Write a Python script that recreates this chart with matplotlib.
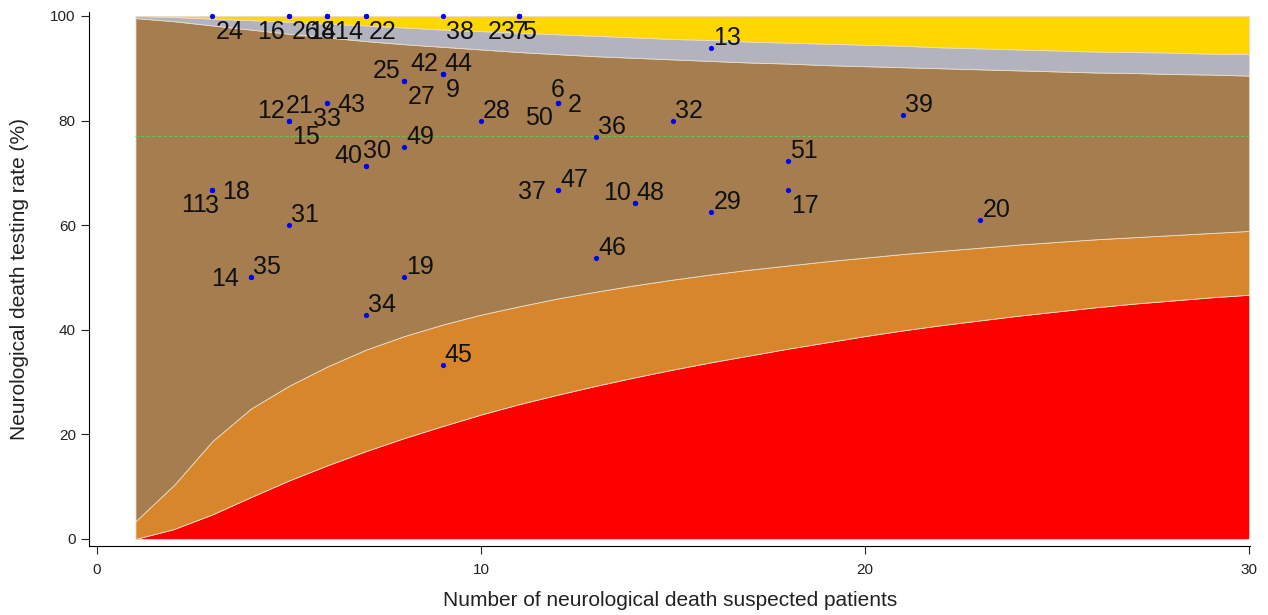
import matplotlib
matplotlib.use("Agg")
from matplotlib import pyplot as plt

# control limits, one value per number of patients (1..30)
n_grid = list(range(1, 31))
lower_998 = [0.0, 1.9, 4.7, 8.0, 11.2, 14.1, 16.8, 19.3, 21.6, 23.8,
             25.8, 27.6, 29.3, 30.9, 32.4, 33.8, 35.1, 36.4, 37.6, 38.8,
             39.9, 40.9, 41.8, 42.7, 43.5, 44.3, 45.0, 45.6, 46.2, 46.7]
lower_95 = [3.4, 10.3, 18.7, 24.9, 29.3, 33.0, 36.2, 38.8, 41.0, 42.9,
            44.5, 46.0, 47.3, 48.5, 49.6, 50.6, 51.5, 52.3, 53.1, 53.8,
            54.5, 55.1, 55.7, 56.3, 56.8, 57.3, 57.7, 58.1, 58.5, 58.9]
upper_95 = [99.6, 99.0, 98.2, 97.4, 96.6, 95.9, 95.2, 94.6, 94.1, 93.6,
            93.1, 92.7, 92.3, 92.0, 91.7, 91.4, 91.1, 90.9, 90.6, 90.4,
            90.2, 90.0, 89.8, 89.6, 89.4, 89.2, 89.1, 88.9, 88.8, 88.6]
upper_998 = [100.0, 99.8, 99.5, 99.2, 98.9, 98.5, 98.2, 97.8, 97.4, 97.1,
             96.8, 96.5, 96.2, 95.9, 95.6, 95.4, 95.1, 94.9, 94.7, 94.5,
             94.3, 94.0, 93.8, 93.6, 93.4, 93.2, 93.1, 93.0, 92.8, 92.7]
overall_rate = 77.0

# hospitals: suspected patients, testing rate (%), id, label clock position
suspected = [3, 5, 5, 6, 6, 6, 7, 7, 9, 11, 11, 11,
             16, 8, 8, 9, 9, 9, 5, 5, 5, 6, 6,
             12, 12, 12, 10, 13, 15, 21, 8, 7, 7, 18,
             3, 3, 3, 12, 12, 14, 14, 16, 18, 23, 5,
             4, 4, 8, 13, 7, 9]
rate = [100, 100, 100, 100, 100, 100, 100, 100, 100, 100, 100, 100,
        93.8, 87.5, 87.5, 88.9, 88.9, 88.9, 80.0, 80.0, 80.0, 83.3, 83.3,
        83.3, 83.3, 83.3, 80.0, 76.9, 80.0, 81.0, 75.0, 71.4, 71.4, 72.2,
        66.7, 66.7, 66.7, 66.7, 66.7, 64.3, 64.3, 62.5, 66.7, 60.9, 60.0,
        50.0, 50.0, 50.0, 53.8, 42.9, 33.3]
hosp_id = ["24", "16", "26", "1", "8", "41", "4", "22", "38", "23", "7", "5",
           "13", "25", "27", "42", "44", "9", "12", "15", "21", "33", "43",
           "6", "2", "50", "28", "36", "32", "39", "49", "30", "40", "51",
           "18", "11", "3", "47", "37", "10", "48", "29", "17", "20", "31",
           "35", "14", "19", "46", "34", "45"]
label_pos = [4, 7, 4, 7, 6, 5, 7, 4, 4, 7, 6, 4,
             2, 10, 4, 10, 2, 4, 10, 4, 1, 6, 3,
             12, 3, 8, 2, 2, 2, 2, 2, 1, 10, 2,
             3, 8, 6, 2, 9, 10, 2, 2, 4, 2, 2,
             2, 9, 2, 2, 2, 2]

# clock position -> (dx, dy of baseline) in pixels, horizontal alignment
POS = {
    1: (-3, 8, "left"),
    2: (2, 3, "left"),
    3: (10, -9, "left"),
    4: (3, -23, "left"),
    5: (-6, -23, "left"),
    6: (0, -23, "center"),
    7: (-4, -23, "right"),
    8: (-5, -22, "right"),
    9: (-12, -9, "right"),
    10: (-4, 3, "right"),
    12: (0, 6, "center"),
}

BAND_COLORS = ["#ff0000", "#d8862c", "#a57d4e", "#b3b3bf", "#ffd700"]

plt.rcParams["font.family"] = ["Liberation Sans", "DejaVu Sans"]

fig = plt.figure(figsize=(12.68, 6.15), dpi=100)
ax = fig.add_axes([0.0702, 0.1122, 0.9158, 0.8683])

bounds = [[0] * len(n_grid), lower_998, lower_95, upper_95, upper_998, [100] * len(n_grid)]
for lo, hi, col in zip(bounds[:-1], bounds[1:], BAND_COLORS):
    ax.fill_between(n_grid, lo, hi, color=col, lw=0.6, edgecolor="#e8dcc8", zorder=1)

ax.plot([n_grid[0], n_grid[-1]], [overall_rate, overall_rate], color="#55cc55",
        lw=0.8, ls=(0, (3, 2)), zorder=2)

ax.scatter(suspected, rate, s=14, color="#0000ff", zorder=3, linewidths=0)

for x, y, txt, p in zip(suspected, rate, hosp_id, label_pos):
    dx, dy, ha = POS[p]
    ax.annotate(txt, (x, y), xytext=(dx, dy), textcoords="offset pixels",
                ha=ha, va="baseline", fontsize=18, color="#111111", zorder=4)

ax.set_xlim(-0.21, 30.03)
ax.set_ylim(-1.34, 100.76)
ax.set_xticks([0, 10, 20, 30])
ax.set_yticks([0, 20, 40, 60, 80, 100])
ax.tick_params(labelsize=11, length=6, width=0.8, colors="#222222")
ax.tick_params(axis="x", pad=6)
for side in ("top", "right"):
    ax.spines[side].set_visible(False)
for side in ("left", "bottom"):
    ax.spines[side].set_linewidth(0.8)

ax.set_xlabel("Number of neurological death suspected patients", fontsize=15,
              color="#222222", labelpad=10)
ax.set_ylabel("Neurological death testing rate (%)", fontsize=15,
              color="#222222", labelpad=15)

fig.savefig("out.png", dpi=100)
